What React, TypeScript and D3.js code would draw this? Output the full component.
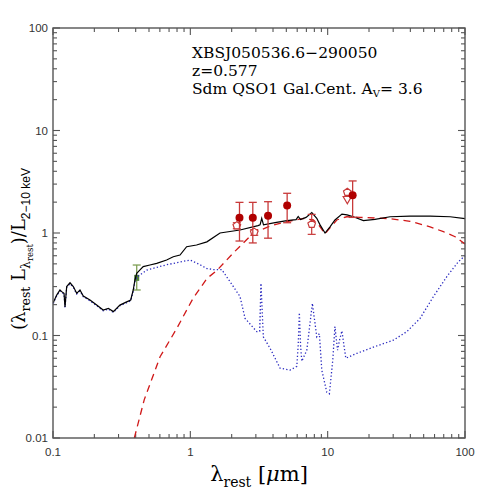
import React from 'react';
import * as d3 from 'd3';

const W = 491;
const H = 491;
const margin = { top: 28, right: 26, bottom: 53, left: 53 };

// total model, black solid: [lambda_rest (um), value]
const totalSed: [number, number][] = [
  [0.1005, 0.21], [0.1064, 0.248], [0.1124, 0.278], [0.1157, 0.268], [0.1203, 0.258],
  [0.1223, 0.19], [0.1258, 0.3], [0.133, 0.327], [0.1406, 0.3], [0.1488, 0.258],
  [0.1572, 0.278], [0.1662, 0.243], [0.186, 0.222], [0.208, 0.198], [0.232, 0.177],
  [0.253, 0.184], [0.275, 0.171], [0.307, 0.198], [0.344, 0.213], [0.368, 0.222],
  [0.384, 0.278], [0.395, 0.348], [0.407, 0.404], [0.43, 0.436], [0.454, 0.47],
  [0.508, 0.487], [0.569, 0.506], [0.672, 0.545], [0.751, 0.587], [0.841, 0.61],
  [0.94, 0.735], [1.11, 0.764], [1.32, 0.82], [1.645, 1.0], [2.3, 1.07],
  [3.11, 1.18], [3.22, 1.2], [3.31, 1.39], [3.41, 1.2], [4.14, 1.26],
  [5.04, 1.32], [5.89, 1.35], [6.1, 1.45], [6.35, 1.35], [6.96, 1.42],
  [7.66, 1.58], [8.33, 1.39], [8.8, 1.2], [9.57, 1.0], [10.4, 1.15],
  [11.3, 1.34], [12.7, 1.53], [13.85, 1.5], [15.4, 1.44], [18.2, 1.32],
  [22.1, 1.36], [28.5, 1.44], [39.8, 1.46], [55.7, 1.46], [77.9, 1.44], [100, 1.38],
];

// AGN / torus component, red dashed
const agnSed: [number, number][] = [
  [0.391, 0.01], [0.462, 0.0237], [0.602, 0.062], [0.796, 0.117], [0.941, 0.177],
  [1.046, 0.23], [1.177, 0.288], [1.32, 0.36], [1.557, 0.43], [2.057, 0.64],
  [2.876, 1.0], [3.81, 1.17], [5.04, 1.29], [6.65, 1.39], [7.87, 1.34],
  [8.6, 1.2], [9.57, 0.98], [10.4, 1.12], [11.65, 1.34], [13.77, 1.44],
  [17.2, 1.42], [28.5, 1.38], [39.8, 1.3], [55.7, 1.15], [69.6, 1.03],
  [84.7, 0.92], [100, 0.78],
];

// host galaxy component, blue dotted
const hostSed: [number, number][] = [
  [0.1005, 0.205], [0.1064, 0.244], [0.1124, 0.272], [0.1157, 0.263], [0.1203, 0.254],
  [0.1223, 0.188], [0.1258, 0.295], [0.133, 0.32], [0.1406, 0.295], [0.1488, 0.254],
  [0.1572, 0.272], [0.1662, 0.239], [0.186, 0.218], [0.208, 0.195], [0.232, 0.174],
  [0.253, 0.181], [0.275, 0.168], [0.307, 0.195], [0.344, 0.209], [0.368, 0.218],
  [0.384, 0.27], [0.395, 0.335], [0.407, 0.37], [0.43, 0.39], [0.4816, 0.435],
  [0.672, 0.49], [0.94, 0.537], [0.995, 0.545], [1.177, 0.49], [1.32, 0.45],
  [1.471, 0.44], [1.693, 0.44], [2.057, 0.3], [2.3, 0.24], [2.503, 0.147],
  [3.045, 0.109], [3.2, 0.11], [3.27, 0.323], [3.4, 0.097], [3.81, 0.075],
  [4.5, 0.048], [5.32, 0.046], [5.96, 0.05], [6.1, 0.08], [6.22, 0.167],
  [6.35, 0.08], [6.48, 0.056], [7.05, 0.072], [7.74, 0.206], [8.33, 0.097],
  [8.7, 0.104], [9.06, 0.046], [9.85, 0.028], [10.29, 0.027], [10.9, 0.058],
  [11.3, 0.122], [11.8, 0.072], [12.2, 0.09], [12.7, 0.111], [13.55, 0.06],
  [16.3, 0.067], [21.5, 0.077], [30.1, 0.09], [37.7, 0.109], [47.1, 0.147],
  [58.9, 0.24], [73.7, 0.375], [89.5, 0.525], [100, 0.6],
];

// detections (filled circles): lambda, value, upper, lower
const detLam = [2.28, 2.85, 3.68, 5.07, 15.2];
const detVal = [1.41, 1.41, 1.47, 1.85, 2.33];
const detHi = [1.99, 1.99, 2.02, 2.44, 3.22];
const detLo = [0.835, 0.8, 0.89, 1.26, 1.42];

// open pentagons
const openLam = [2.18, 2.92, 7.65, 13.9];
const openVal = [1.18, 1.02, 1.22, 2.5];
const openHi = [1.26, 1.08, 1.52, 2.5];
const openLo = [1.1, 0.95, 0.97, 2.5];
const triLam = [13.9];
const triVal = [2.15];

// optical point (green)
const optLam = [0.407];
const optVal = [0.365];
const optHi = [0.487];
const optLo = [0.278];

const xMajor = [0.1, 1, 10, 100];
const xLabels = ['0.1', '1', '10', '100'];
const yMajor = [0.01, 0.1, 1, 10, 100];
const yLabels = ['0.01', '0.1', '1', '10', '100'];

const isMajor = (v: number) => Math.abs(Math.log10(v) - Math.round(Math.log10(v))) < 1e-6;

function pentagon(cx: number, cy: number, r: number) {
  const pts = d3.range(5).map(i => {
    const a = (-90 + 72 * i) * Math.PI / 180;
    return [cx + r * Math.cos(a), cy + r * Math.sin(a)];
  });
  return 'M' + pts.map(p => p.join(',')).join('L') + 'Z';
}

export default function App() {
  const x = d3.scaleLog().domain([0.1, 100]).range([margin.left, W - margin.right]);
  const y = d3.scaleLog().domain([0.01, 100]).range([H - margin.bottom, margin.top]);
  const line = d3.line<[number, number]>().x(d => x(d[0])).y(d => y(d[1]));
  const x0 = margin.left, x1 = W - margin.right, y0 = H - margin.bottom, y1 = margin.top;
  const axisColor = '#555';
  const errRed = '#c83a3a';
  const ptRed = '#b00000';
  const tickFont = "'Liberation Sans', Arial, sans-serif";
  const serif = "'DejaVu Serif', serif";

  const xTicks = x.ticks();
  const yTicks = y.ticks();

  return (
    <svg width={W} height={H} style={{ position: 'absolute', left: 0, top: 0 }}>
      <rect width={W} height={H} fill="#fff" />

      {/* ticks on all four sides, inside */}
      <g stroke={axisColor} strokeWidth={1.1}>
        {xTicks.map((t, i) => {
          const L = isMajor(t) ? 7 : 4;
          return (
            <g key={'xt' + i}>
              <line x1={x(t)} x2={x(t)} y1={y0} y2={y0 - L} />
              <line x1={x(t)} x2={x(t)} y1={y1} y2={y1 + L} />
            </g>
          );
        })}
        {yTicks.map((t, i) => {
          const L = isMajor(t) ? 7 : 4;
          return (
            <g key={'yt' + i}>
              <line y1={y(t)} y2={y(t)} x1={x0} x2={x0 + L} />
              <line y1={y(t)} y2={y(t)} x1={x1} x2={x1 - L} />
            </g>
          );
        })}
      </g>

      {/* tick labels */}
      <g fontFamily={tickFont} fontSize={11.5} fill="#333">
        {xMajor.map((t, i) => (
          <text key={'xl' + i} x={x(t)} y={y0 + 18} textAnchor="middle">{xLabels[i]}</text>
        ))}
        {yMajor.map((t, i) => (
          <text key={'yl' + i} x={x0 - 5} y={y(t) + 4} textAnchor="end">{yLabels[i]}</text>
        ))}
      </g>

      {/* optical point */}
      {optLam.map((l, i) => (
        <g key={'op' + i} stroke="#7f9f55" strokeWidth={1.3}>
          <line x1={x(l)} x2={x(l)} y1={y(optHi[i])} y2={y(optLo[i])} />
          <line x1={x(l) - 4} x2={x(l) + 4} y1={y(optHi[i])} y2={y(optHi[i])} />
          <line x1={x(l) - 4} x2={x(l) + 4} y1={y(optLo[i])} y2={y(optLo[i])} />
          <rect x={x(l) - 2.5} y={y(optVal[i]) - 3} width={5} height={6} fill="#4f7f3a" stroke="none" />
        </g>
      ))}

      {/* model curves */}
      <path d={line(hostSed) || ''} fill="none" stroke="#2b2bc0" strokeWidth={1.3} strokeDasharray="1.3,2.2" />
      <path d={line(agnSed) || ''} fill="none" stroke="#d01818" strokeWidth={1.3} strokeDasharray="7,5" />
      <path d={line(totalSed) || ''} fill="none" stroke="#000" strokeWidth={1.2} />

      {/* open points */}
      {openLam.map((l, i) => (
        <g key={'o' + i} stroke={errRed} strokeWidth={1.2} fill="none">
          {openHi[i] !== openLo[i] && (
            <>
              <line x1={x(l)} x2={x(l)} y1={y(openHi[i])} y2={y(openLo[i])} />
              <line x1={x(l) - 4} x2={x(l) + 4} y1={y(openHi[i])} y2={y(openHi[i])} />
              <line x1={x(l) - 4} x2={x(l) + 4} y1={y(openLo[i])} y2={y(openLo[i])} />
            </>
          )}
          <path d={pentagon(x(l), y(openVal[i]), 4)} fill="#fff" />
        </g>
      ))}
      {triLam.map((l, i) => (
        <path key={'tr' + i}
          d={d3.symbol(d3.symbolTriangle, 30)() || ''}
          transform={`translate(${x(l)},${y(triVal[i])}) rotate(180)`}
          fill="none" stroke={errRed} strokeWidth={1.2} />
      ))}

      {/* detections */}
      {detLam.map((l, i) => (
        <g key={'d' + i}>
          <g stroke={errRed} strokeWidth={1.3}>
            <line x1={x(l)} x2={x(l)} y1={y(detHi[i])} y2={y(detLo[i])} />
            <line x1={x(l) - 4} x2={x(l) + 4} y1={y(detHi[i])} y2={y(detHi[i])} />
            <line x1={x(l) - 4} x2={x(l) + 4} y1={y(detLo[i])} y2={y(detLo[i])} />
          </g>
          <circle cx={x(l)} cy={y(detVal[i])} r={4} fill={ptRed} />
        </g>
      ))}

      {/* frame */}
      <rect x={x0} y={y1} width={x1 - x0} height={y0 - y1} fill="none" stroke={axisColor} strokeWidth={1.4} />

      {/* annotation */}
      <g fontFamily={serif} fontSize={15.5} fill="#000">
        <text x={192} y={58}>XBSJ050536.6−290050</text>
        <text x={192} y={76}>z=0.577</text>
        <text x={192} y={94}>
          Sdm QSO1 Gal.Cent. A<tspan fontSize={10} dy={3}>V</tspan><tspan dy={-3}>= 3.6</tspan>
        </text>
      </g>

      {/* x label */}
      <text x={(x0 + x1) / 2} y={481} textAnchor="middle" fontFamily={serif} fontSize={21}>
        λ<tspan fontSize={14} dy={6}>rest</tspan><tspan dy={-6}>  [</tspan><tspan fontStyle="italic">μ</tspan>m]
      </text>

      {/* y label */}
      <text transform={`translate(25,249) rotate(-90)`} textAnchor="middle" fontFamily={serif} fontSize={18}>
        (λ<tspan fontSize={12.5} dy={5}>rest</tspan><tspan dy={-5}> L</tspan><tspan fontSize={12.5} dy={5}>λ</tspan><tspan fontSize={8.5} dy={3}>rest</tspan><tspan dy={-8}>)/L</tspan><tspan fontSize={12} dy={5} fontFamily={tickFont}>2−10 keV</tspan>
      </text>
    </svg>
  );
}
